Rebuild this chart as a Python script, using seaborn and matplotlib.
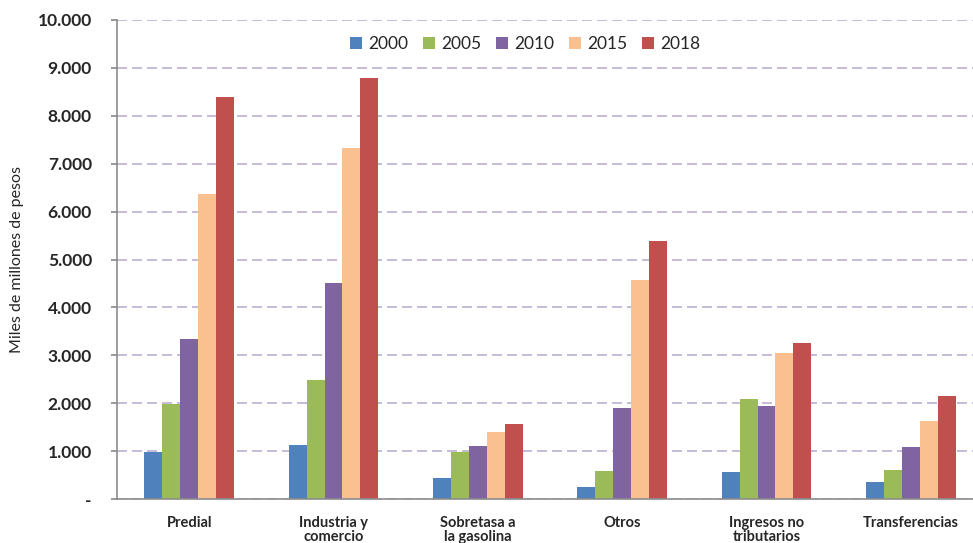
import pandas as pd
import numpy as np
import matplotlib
matplotlib.use("Agg")
import matplotlib.pyplot as plt
import seaborn as sns
from matplotlib.ticker import FuncFormatter, MultipleLocator
from matplotlib.patches import Patch

sns.set_theme(style="white")
plt.rcParams["font.family"] = ["Lato", "DejaVu Sans"]

categories = ["Predial", "Industria y\ncomercio", "Sobretasa a\nla gasolina",
              "Otros", "Ingresos no\ntributarios", "Transferencias"]
years = ["2000", "2005", "2010", "2015", "2018"]

v2000 = [975, 1125, 445, 260, 570, 350]
v2005 = [1975, 2490, 985, 575, 2085, 605]
v2010 = [3330, 4505, 1105, 1905, 1935, 1080]
v2015 = [6370, 7330, 1390, 4580, 3045, 1635]
v2018 = [8385, 8790, 1575, 5390, 3260, 2140]

colors = ["#4F81BD", "#9BBB59", "#8064A2", "#FAC090", "#C0504D"]

series = [v2000, v2005, v2010, v2015, v2018]
df = pd.DataFrame({
    "categoria": np.tile(categories, len(years)),
    "anio": np.repeat(years, len(categories)),
    "valor": np.concatenate(series),
})

fig = plt.figure(figsize=(9.73, 5.43), dpi=100)
ax = fig.add_axes([117 / 973, 44 / 543, 866 / 973, 479 / 543])

sns.barplot(data=df, x="categoria", y="valor", hue="anio", order=categories,
            hue_order=years, palette=colors, saturation=1, width=0.62,
            errorbar=None, linewidth=0, ax=ax)

ax.set_ylim(0, 10000)
ax.yaxis.set_major_locator(MultipleLocator(1000))
ax.yaxis.set_major_formatter(FuncFormatter(
    lambda v, p: "-" if v == 0 else f"{int(v):,}".replace(",", ".")))
ax.grid(axis="y", color="#BDB0D2", linestyle=(0, (6, 3)), linewidth=1.2)
ax.set_axisbelow(True)

for s in ["top", "right"]:
    ax.spines[s].set_visible(False)
for s in ["left", "bottom"]:
    ax.spines[s].set_color("#8C8C8C")
    ax.spines[s].set_linewidth(1.2)

ax.tick_params(axis="y", left=True, length=4, color="#8C8C8C", pad=14,
               labelsize=12.5)
ax.tick_params(axis="x", bottom=False, labelsize=10.5, pad=6)
for t in ax.get_yticklabels():
    t.set_fontweight("bold")
for t in ax.get_xticklabels():
    t.set_fontweight("bold")
    t.set_linespacing(1.05)

ax.set_xlabel("")
ax.set_ylabel("Miles de millones de pesos", fontsize=11.5, labelpad=10)

ax.get_legend().remove()
handles = [Patch(facecolor=c, edgecolor="none") for c in colors]
fig.legend(handles, years, loc="center", bbox_to_anchor=(525 / 973, 1 - 44 / 543),
           ncol=5, frameon=False, fontsize=12.5, handlelength=0.7,
           handleheight=0.7, handletextpad=0.35, columnspacing=0.85)

plt.savefig("out.png", dpi=100)
